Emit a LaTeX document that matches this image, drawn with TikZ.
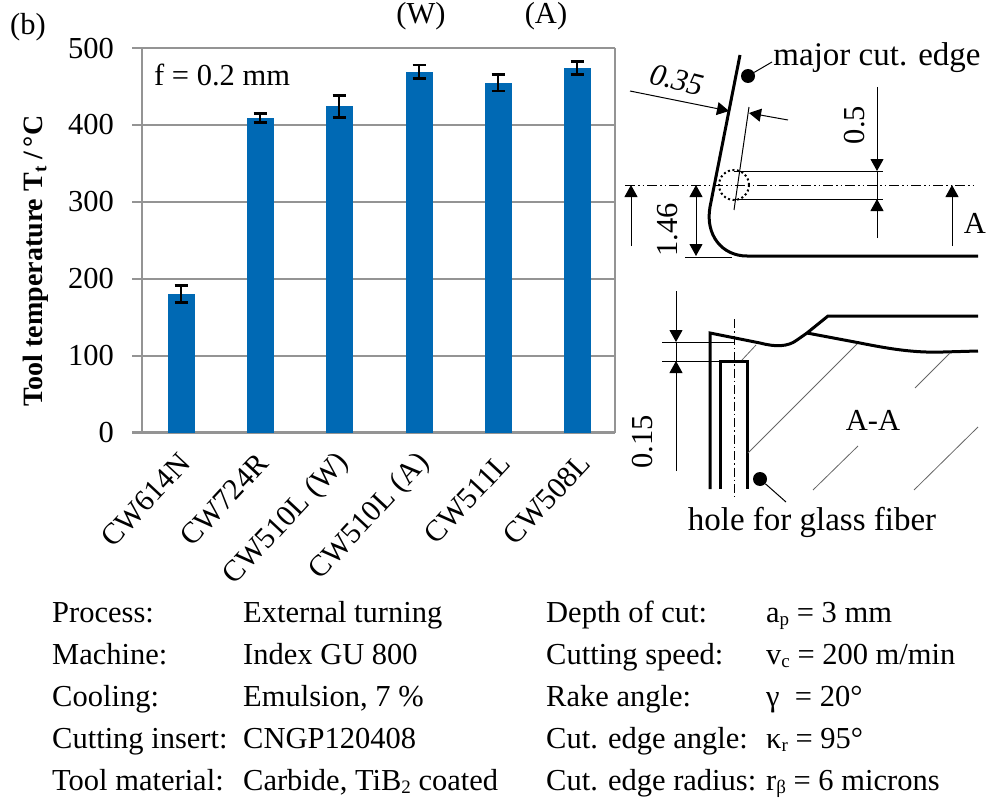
\documentclass[tikz,border=0pt]{standalone}
\usepackage{fontspec}
\setmainfont{Liberation Serif}
\usetikzlibrary{arrows.meta}
\tikzset{
  grid line/.style={draw=black!42, line width=2.6pt},
  thin line/.style={line width=1pt},
  thick line/.style={line width=3pt},
  hatch/.style={draw=black!60, line width=0.8pt},
  dim/.style={thin line, -{Triangle[length=12pt,width=13pt]}},
  dimboth/.style={thin line, {Triangle[length=12pt,width=13pt]}-{Triangle[length=12pt,width=13pt]}},
  dot/.style={circle, fill=black, inner sep=0pt, minimum size=14pt},
  label/.style={inner sep=0pt, font=\fontsize{30.5}{33}\selectfont},
  sketch label/.style={inner sep=0pt, font=\fontsize{33}{36}\selectfont},
  row/.style={label, anchor=base west},
  ticklabel/.style={label, anchor=east},
  sample/.style={inner sep=0pt, font=\fontsize{30}{33}\selectfont, anchor=east, rotate=47}
}
\definecolor{barblue}{HTML}{0069B4}
\newcommand\sub[1]{\raisebox{-0.28ex}{\fontsize{19}{19}\selectfont #1}}
\newcommand\barerr[3]{
  \def\ytop{432.5-0.769*#2}
  \fill[barblue] (#1-13.5, 432.5) rectangle (#1+13.5, \ytop);
  \draw[line width=2.8pt] (#1-6.5, \ytop+0.769*#3) -- (#1+6.5, \ytop+0.769*#3) (#1, \ytop+0.769*#3) -- (#1, \ytop-0.769*#3) (#1-6.5, \ytop-0.769*#3) -- (#1+6.5, \ytop-0.769*#3);
}
\begin{document}
\begin{tikzpicture}[x=1pt, y=-1pt]
  \useasboundingbox (0,0) rectangle (989,808);

  % chart
  \foreach \yy in {48,125,202,279,356,432.5}
    \draw[grid line] (132,\yy) -- (615,\yy);
  \draw[grid line] (142,48) -- (142,432.5) (615,48) -- (615,432.5);

  \barerr{181}{180}{11}
  \barerr{260}{409}{6}
  \barerr{339}{424}{14}
  \barerr{419}{469}{9}
  \barerr{498}{455}{11}
  \barerr{577}{474}{8}

  \node[ticklabel] (y500) at (114,49) {500};
  \node[ticklabel] (y400) at (114,125) {400};
  \node[ticklabel] (y300) at (114,202) {300};
  \node[ticklabel] (y200) at (114,279) {200};
  \node[ticklabel] (y100) at (114,356) {100};
  \node[ticklabel] (y0) at (114,433) {0};

  \node[inner sep=0pt, rotate=90, font=\fontsize{28}{30}\selectfont\bfseries] (ytitle) at (36,261) {Tool temperature T\sub{t} /\,°C};
  \node[row] (feed) at (154,85) {f = 0.2 mm};
  \node[row] (panel) at (10,35) {(b)};
  \node[label, anchor=base] (topw) at (421,24) {(W)};
  \node[label, anchor=base] (topa) at (546,24) {(A)};

  \node[sample] (s1) at (185,458) {CW614N};
  \node[sample] (s2) at (263,458) {CW724R};
  \node[sample] (s3) at (344,458) {CW510L (W)};
  \node[sample] (s4) at (425,458) {CW510L (A)};
  \node[sample] (s5) at (505,458) {CW511L};
  \node[sample] (s6) at (585,458) {CW508L};

  % upper sketch
  \draw[thick line] (740,55) -- (710,207) .. controls (705,235) and (722,256) .. (747,256) -- (978,256);
  \node[dot] (majordot) at (748,76) {};
  \node[sketch label, anchor=base] (major) at (877,66) {major cut. edge};
  \coordinate (majorend) at (772,62);
  \draw[thin line] (majordot) -- (majorend);

  \draw[dim] (630,91) -- (729,111);
  \draw[dim] (788,120) -- (749,113);
  \node[inner sep=0pt, rotate=-14, font=\fontsize{31}{33}\selectfont\itshape] (d035) at (677,80) {0.35};
  \draw[thin line] (749,107) -- (734,210);

  \draw[thin line, dash pattern=on 10pt off 3pt on 1.5pt off 3pt on 1.5pt off 3pt] (625,185) -- (977,185);
  \draw[line width=2pt, dash pattern=on 2pt off 2.6pt] (734,185) circle (15);
  \draw[thin line] (734,171) -- (883,171) (734,199) -- (883,199) (877,171) -- (877,199);
  \draw[dim] (877,87) -- (877,171);
  \draw[dim] (877,238) -- (877,199);
  \node[label, rotate=90] (d05) at (855,125) {0.5};

  \draw[dim] (631,246) -- (631,185);
  \draw[dimboth] (696,185) -- (696,256);
  \draw[thin line] (685,257) -- (732,257);
  \node[label, rotate=90] (d146) at (668,230) {1.46};
  \draw[dim] (952,246) -- (952,185);
  \node[label] (seca) at (975,223) {A};

  % lower sketch
  \draw[thick line] (710,489) -- (710,333) -- (760,343) .. controls (775,347) and (788,347) .. (797,340) -- (807,333) -- (828,316) -- (978,316);
  \draw[thick line] (807,333) -- (860,343) .. controls (890,349) and (915,353) .. (943,352) -- (978,351);
  \draw[thick line] (720,489) -- (720,361) -- (747,361) -- (747,489);
  \draw[thin line, dash pattern=on 9pt off 3pt on 1.5pt off 3pt] (734,319) -- (734,497);

  \draw[hatch] (748,453) -- (857,344) (742,360) -- (756,345) (915,388) -- (950,353) (813,490) -- (858,446) (914,490) -- (978,427);

  \draw[thin line] (662,342) -- (735,342) (662,361) -- (720,361) (676,342) -- (676,361);
  \draw[dim] (676,291) -- (676,342);
  \draw[dim] (676,471) -- (676,361);
  \node[label, rotate=90] (d015) at (643,442) {0.15};
  \node[label] (secaa) at (873,420) {A-A};

  \node[dot] (holedot) at (760,479) {};
  \coordinate (holeend) at (786,502);
  \draw[thin line] (holedot) -- (holeend);
  \node[sketch label, anchor=base] (hole) at (812,530) {hole for glass fiber};

  % parameter table
  \node[row] (p1) at (52,622) {Process:};
  \node[row] (p2) at (52,664) {Machine:};
  \node[row] (p3) at (52,706) {Cooling:};
  \node[row] (p4) at (52,748) {Cutting insert:};
  \node[row] (p5) at (52,790) {Tool material:};
  \node[row] (v1) at (243,622) {External turning};
  \node[row] (v2) at (243,664) {Index GU 800};
  \node[row] (v3) at (243,706) {Emulsion, 7 \%};
  \node[row] (v4) at (243,748) {CNGP120408};
  \node[row] (v5) at (243,790) {Carbide, TiB\sub{2} coated};
  \node[row] (q1) at (546,622) {Depth of cut:};
  \node[row] (q2) at (546,664) {Cutting speed:};
  \node[row] (q3) at (546,706) {Rake angle:};
  \node[row] (q4) at (546,748) {Cut. edge angle:};
  \node[row] (q5) at (546,790) {Cut. edge radius:};
  \node[row] (w1) at (766,622) {a\sub{p} = 3 mm};
  \node[row] (w2) at (766,664) {v\sub{c} = 200 m/min};
  \node[row] (w3) at (766,706) {γ\ \ = 20°};
  \node[row] (w4) at (766,748) {κ\sub{r} = 95°};
  \node[row] (w5) at (766,790) {r\sub{β} = 6 microns};
\end{tikzpicture}
\end{document}
